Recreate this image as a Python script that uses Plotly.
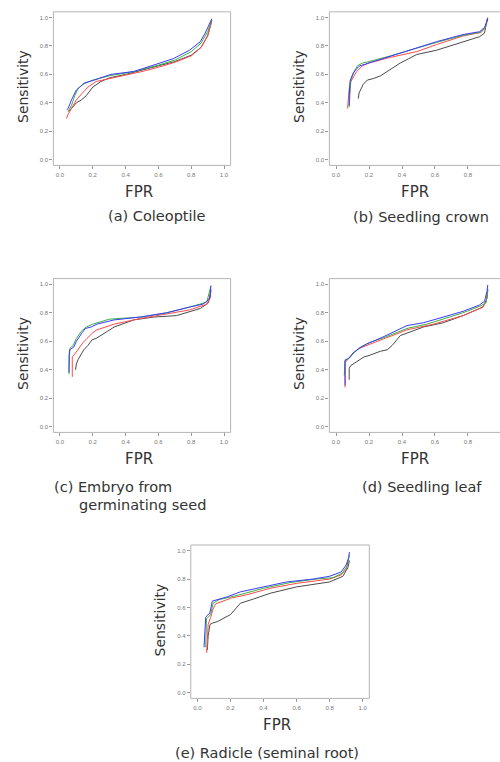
import plotly.graph_objects as go

W, H = 500, 762

# ---- ROC curves: FPR (x) vs Sensitivity (y), four models per tissue ----
# (a) Coleoptile
A_BLACK_X = [0.05, 0.07, 0.10, 0.13, 0.16, 0.20, 0.25, 0.30, 0.40, 0.50, 0.60, 0.70, 0.80, 0.86, 0.90, 0.925]
A_BLACK_Y = [0.34, 0.36, 0.40, 0.42, 0.45, 0.51, 0.55, 0.575, 0.60, 0.63, 0.66, 0.69, 0.735, 0.79, 0.87, 0.98]
A_RED_X = [0.04, 0.05, 0.07, 0.10, 0.13, 0.17, 0.22, 0.30, 0.40, 0.50, 0.60, 0.70, 0.80, 0.86, 0.90, 0.925]
A_RED_Y = [0.29, 0.32, 0.36, 0.42, 0.46, 0.51, 0.55, 0.57, 0.59, 0.62, 0.65, 0.685, 0.73, 0.79, 0.87, 0.97]
A_GREEN_X = [0.05, 0.07, 0.09, 0.11, 0.14, 0.20, 0.30, 0.45, 0.60, 0.70, 0.80, 0.86, 0.90, 0.925]
A_GREEN_Y = [0.34, 0.38, 0.45, 0.50, 0.53, 0.56, 0.59, 0.62, 0.665, 0.70, 0.76, 0.82, 0.90, 0.98]
A_BLUE_X = [0.04, 0.05, 0.07, 0.08, 0.10, 0.12, 0.15, 0.21, 0.31, 0.45, 0.59, 0.69, 0.79, 0.855, 0.885, 0.915, 0.925]
A_BLUE_Y = [0.35, 0.36, 0.42, 0.44, 0.49, 0.51, 0.54, 0.56, 0.60, 0.62, 0.67, 0.71, 0.77, 0.83, 0.89, 0.96, 0.99]

# (b) Seedling crown
B_BLACK_X = [0.135, 0.14, 0.165, 0.19, 0.225, 0.27, 0.31, 0.35, 0.39, 0.44, 0.49, 0.61, 0.77, 0.87, 0.90, 0.915]
B_BLACK_Y = [0.43, 0.47, 0.53, 0.56, 0.57, 0.59, 0.62, 0.65, 0.68, 0.71, 0.74, 0.77, 0.83, 0.865, 0.89, 0.98]
B_RED_X = [0.07, 0.075, 0.08, 0.09, 0.11, 0.125, 0.16, 0.20, 0.33, 0.49, 0.61, 0.77, 0.88, 0.905, 0.915]
B_RED_Y = [0.36, 0.42, 0.50, 0.55, 0.59, 0.62, 0.66, 0.68, 0.72, 0.76, 0.81, 0.87, 0.895, 0.93, 0.99]
B_GREEN_X = [0.08, 0.085, 0.09, 0.11, 0.13, 0.16, 0.20, 0.33, 0.49, 0.61, 0.77, 0.87, 0.90, 0.92]
B_GREEN_Y = [0.37, 0.50, 0.56, 0.62, 0.66, 0.68, 0.69, 0.73, 0.785, 0.825, 0.875, 0.895, 0.92, 0.99]
B_BLUE_X = [0.08, 0.08, 0.085, 0.09, 0.105, 0.125, 0.145, 0.20, 0.33, 0.49, 0.61, 0.77, 0.87, 0.90, 0.915, 0.92]
B_BLUE_Y = [0.38, 0.45, 0.55, 0.57, 0.61, 0.64, 0.66, 0.68, 0.73, 0.79, 0.83, 0.88, 0.90, 0.93, 0.97, 1.00]

# (c) Embryo from germinating seed
C_BLACK_X = [0.095, 0.10, 0.11, 0.13, 0.145, 0.17, 0.195, 0.22, 0.245, 0.29, 0.33, 0.45, 0.57, 0.71, 0.855, 0.905, 0.92]
C_BLACK_Y = [0.40, 0.44, 0.47, 0.51, 0.54, 0.57, 0.61, 0.62, 0.64, 0.67, 0.70, 0.75, 0.77, 0.78, 0.83, 0.87, 0.96]
C_RED_X = [0.075, 0.075, 0.09, 0.115, 0.14, 0.165, 0.20, 0.225, 0.33, 0.49, 0.65, 0.79, 0.895, 0.915, 0.92]
C_RED_Y = [0.35, 0.49, 0.51, 0.55, 0.59, 0.62, 0.66, 0.68, 0.72, 0.76, 0.79, 0.82, 0.86, 0.90, 0.96]
C_GREEN_X = [0.055, 0.06, 0.08, 0.10, 0.13, 0.16, 0.20, 0.30, 0.49, 0.65, 0.79, 0.895, 0.92]
C_GREEN_Y = [0.37, 0.55, 0.57, 0.62, 0.67, 0.70, 0.72, 0.755, 0.77, 0.80, 0.84, 0.875, 0.99]
C_BLUE_X = [0.055, 0.055, 0.06, 0.085, 0.10, 0.115, 0.135, 0.155, 0.19, 0.225, 0.33, 0.49, 0.65, 0.79, 0.87, 0.895, 0.915, 0.92]
C_BLUE_Y = [0.38, 0.50, 0.54, 0.56, 0.60, 0.63, 0.66, 0.69, 0.70, 0.72, 0.75, 0.77, 0.80, 0.84, 0.86, 0.88, 0.91, 0.99]

# (d) Seedling leaf
D_BLACK_X = [0.08, 0.08, 0.09, 0.11, 0.14, 0.17, 0.20, 0.23, 0.27, 0.31, 0.34, 0.39, 0.45, 0.53, 0.65, 0.77, 0.85, 0.89, 0.915, 0.92]
D_BLACK_Y = [0.33, 0.41, 0.43, 0.445, 0.47, 0.49, 0.50, 0.515, 0.53, 0.54, 0.57, 0.64, 0.665, 0.70, 0.73, 0.78, 0.82, 0.84, 0.90, 0.96]
D_RED_X = [0.055, 0.055, 0.07, 0.10, 0.14, 0.185, 0.285, 0.43, 0.59, 0.77, 0.89, 0.91, 0.92]
D_RED_Y = [0.275, 0.45, 0.47, 0.51, 0.55, 0.57, 0.62, 0.68, 0.72, 0.78, 0.84, 0.88, 0.96]
D_GREEN_X = [0.05, 0.055, 0.08, 0.11, 0.15, 0.20, 0.30, 0.43, 0.55, 0.65, 0.77, 0.88, 0.91, 0.92]
D_GREEN_Y = [0.36, 0.47, 0.48, 0.52, 0.56, 0.59, 0.63, 0.69, 0.72, 0.755, 0.80, 0.85, 0.87, 0.97]
D_BLUE_X = [0.055, 0.055, 0.07, 0.085, 0.105, 0.14, 0.185, 0.285, 0.43, 0.53, 0.65, 0.77, 0.87, 0.90, 0.915, 0.92]
D_BLUE_Y = [0.29, 0.465, 0.475, 0.49, 0.52, 0.55, 0.58, 0.63, 0.71, 0.73, 0.77, 0.81, 0.855, 0.88, 0.95, 0.995]

# (e) Radicle (seminal root)
E_BLACK_X = [0.06, 0.065, 0.076, 0.09, 0.12, 0.20, 0.23, 0.26, 0.34, 0.44, 0.60, 0.80, 0.88, 0.91, 0.92]
E_BLACK_Y = [0.30, 0.40, 0.48, 0.49, 0.50, 0.55, 0.59, 0.63, 0.66, 0.70, 0.745, 0.78, 0.82, 0.88, 0.93]
E_RED_X = [0.056, 0.06, 0.065, 0.08, 0.095, 0.11, 0.14, 0.20, 0.30, 0.44, 0.60, 0.80, 0.87, 0.90, 0.915]
E_RED_Y = [0.28, 0.40, 0.48, 0.53, 0.59, 0.625, 0.64, 0.665, 0.69, 0.735, 0.77, 0.80, 0.83, 0.87, 0.94]
E_GREEN_X = [0.05, 0.055, 0.08, 0.095, 0.13, 0.24, 0.40, 0.56, 0.715, 0.82, 0.875, 0.905, 0.92]
E_GREEN_Y = [0.32, 0.52, 0.55, 0.63, 0.655, 0.685, 0.735, 0.775, 0.80, 0.81, 0.84, 0.89, 0.97]
E_BLUE_X = [0.04, 0.045, 0.05, 0.06, 0.075, 0.09, 0.12, 0.18, 0.26, 0.40, 0.54, 0.70, 0.80, 0.87, 0.90, 0.915, 0.92]
E_BLUE_Y = [0.32, 0.40, 0.53, 0.545, 0.56, 0.645, 0.655, 0.675, 0.71, 0.745, 0.78, 0.80, 0.82, 0.85, 0.90, 0.95, 0.99]

TICK_VALUES = [0.0, 0.2, 0.4, 0.6, 0.8, 1.0]
TICK_LABELS = ["0.0", "0.2", "0.4", "0.6", "0.8", "1.0"]
CAPTIONS = ["(a) Coleoptile", "(b) Seedling crown", "(c) Embryo from",
            "(d) Seedling leaf", "(e) Radicle (seminal root)"]
CAPTION_C2 = "germinating seed"

SERIES_COLORS = ["#4a4a4a", "#ff4a4a", "#3cb043", "#3a3aff"]

panels = [
    [(A_BLACK_X, A_BLACK_Y), (A_RED_X, A_RED_Y), (A_GREEN_X, A_GREEN_Y), (A_BLUE_X, A_BLUE_Y)],
    [(B_BLACK_X, B_BLACK_Y), (B_RED_X, B_RED_Y), (B_GREEN_X, B_GREEN_Y), (B_BLUE_X, B_BLUE_Y)],
    [(C_BLACK_X, C_BLACK_Y), (C_RED_X, C_RED_Y), (C_GREEN_X, C_GREEN_Y), (C_BLUE_X, C_BLUE_Y)],
    [(D_BLACK_X, D_BLACK_Y), (D_RED_X, D_RED_Y), (D_GREEN_X, D_GREEN_Y), (D_BLUE_X, D_BLUE_Y)],
    [(E_BLACK_X, E_BLACK_Y), (E_RED_X, E_RED_Y), (E_GREEN_X, E_GREEN_Y), (E_BLUE_X, E_BLUE_Y)],
]

# Plot-area boxes in pixels: (left, right, top, bottom, x_max).
# The right-hand column runs off the page edge, so its x range is cut short.
boxes = [
    (53.4, 230.6, 11.8, 165.4, 1.04),
    (329.4, 500.0, 11.8, 165.4, 0.994),
    (53.4, 230.6, 278.6, 432.4, 1.04),
    (329.4, 500.0, 278.6, 432.4, 0.994),
    (190.8, 369.3, 545.0, 698.4, 1.04),
]

FONT = "DejaVu Sans, Liberation Sans, sans-serif"
TICK_FONT = "Liberation Sans, Arial, sans-serif"
fig = go.Figure()
layout = dict(width=W, height=H, margin=dict(l=0, r=0, t=0, b=0),
              paper_bgcolor="white", plot_bgcolor="white", showlegend=False,
              shapes=[], annotations=[])

for i, (series, box) in enumerate(zip(panels, boxes)):
    k = "" if i == 0 else str(i + 1)
    left, right, top, bottom, xmax = box
    axis_common = dict(tickvals=TICK_VALUES, ticktext=TICK_LABELS, ticks="outside",
                       ticklen=3, tickcolor="#999", tickwidth=1, showgrid=False,
                       zeroline=False, showline=False,
                       tickfont=dict(size=6, color="#777", family=TICK_FONT))
    layout["xaxis" + k] = dict(domain=[left / W, right / W], range=[-0.04, xmax],
                               anchor="y" + k, **axis_common)
    layout["yaxis" + k] = dict(domain=[1 - bottom / H, 1 - top / H], range=[-0.04, 1.04],
                               anchor="x" + k, **axis_common)

    for (xs, ys), col in zip(series, SERIES_COLORS):
        fig.add_trace(go.Scatter(x=xs, y=ys, mode="lines",
                                 line=dict(color=col, width=1),
                                 xaxis="x" + k, yaxis="y" + k,
                                 hoverinfo="skip"))

    # frame around the plotting region (runs past the page edge on the right column)
    full_right = 1.08 / (xmax + 0.04)
    layout["shapes"].append(dict(type="rect", xref="x" + k + " domain", yref="y" + k + " domain",
                                 x0=0, x1=full_right, y0=0, y1=1,
                                 line=dict(color="#b5b5b5", width=1), layer="below"))

    cx = (left + (left + (right - left) * full_right)) / 2
    # axis titles
    layout["annotations"].append(dict(text="FPR", xref="paper", yref="paper",
                                      x=(cx - 3) / W, y=1 - (bottom + 27) / H,
                                      showarrow=False, xanchor="center", yanchor="middle",
                                      font=dict(size=15, color="#333", family=FONT)))
    layout["annotations"].append(dict(text="Sensitivity", xref="paper", yref="paper",
                                      x=(left - 31) / W, y=1 - ((top + bottom) / 2 - 2) / H,
                                      textangle=-90, showarrow=False,
                                      xanchor="center", yanchor="middle",
                                      font=dict(size=14, color="#333", family=FONT)))

# panel captions
CAP_SIZE = 14.5
cap_pos = [(157, 216), (421, 217), (None, 487), (422, 487), (267, 753)]
for cap, (cx, cy) in zip(CAPTIONS, cap_pos):
    if cx is None:
        layout["annotations"].append(dict(text=cap, xref="paper", yref="paper",
                                          x=52 / W, y=1 - cy / H, showarrow=False,
                                          xanchor="left", yanchor="middle",
                                          font=dict(size=CAP_SIZE, color="#333", family=FONT)))
        layout["annotations"].append(dict(text=CAPTION_C2, xref="paper", yref="paper",
                                          x=77 / W, y=1 - (cy + 17.5) / H, showarrow=False,
                                          xanchor="left", yanchor="middle",
                                          font=dict(size=CAP_SIZE, color="#333", family=FONT)))
    else:
        layout["annotations"].append(dict(text=cap, xref="paper", yref="paper",
                                          x=cx / W, y=1 - cy / H, showarrow=False,
                                          xanchor="center", yanchor="middle",
                                          font=dict(size=CAP_SIZE, color="#333", family=FONT)))

fig.update_layout(**layout)
fig.write_html("out.html")
